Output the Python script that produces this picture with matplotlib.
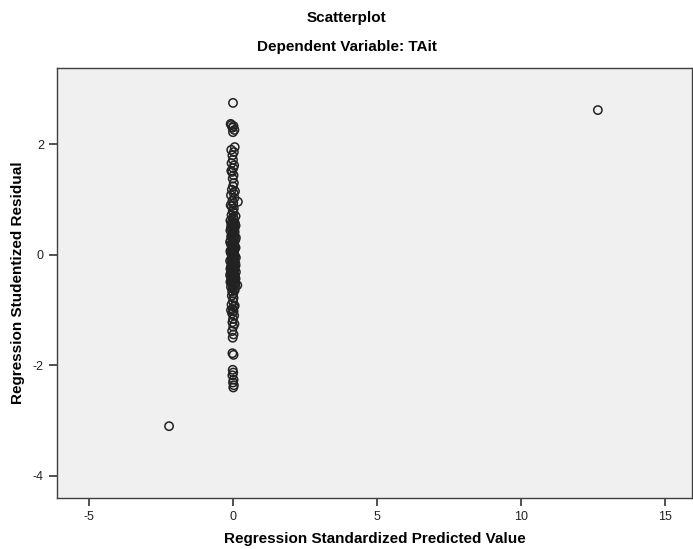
import matplotlib
matplotlib.use("Agg")
import matplotlib.pyplot as plt

# Regression Standardized Predicted Value (x) and Studentized Residual (y)
outlier_x = [12.67, -2.22]
outlier_y = [2.62, -3.10]

cluster_y = [
    2.75,
    2.37, 2.35, 2.33, 2.30, 2.26, 2.22,
    1.90, 1.86, 1.80, 1.72, 1.66, 1.62, 1.57, 1.50, 1.44, 1.38, 1.30, 1.24,
    1.18, 1.12, 1.08, 1.03, 0.98, 0.96, 0.93, 0.88, 0.84, 0.80, 0.76, 0.72,
    0.68, 0.64, 0.61, 0.58, 0.55, 0.52, 0.50, 0.47, 0.45, 0.42, 0.40, 0.37,
    0.35, 0.33, 0.30, 0.28, 0.26, 0.24, 0.22, 0.20, 0.18, 0.16, 0.14, 0.12,
    0.10, 0.08, 0.06, 0.05, 0.03, 0.02, 0.00, -0.01, -0.03, -0.04, -0.06,
    -0.08, -0.10, -0.12, -0.14, -0.16, -0.18, -0.20, -0.22, -0.24, -0.26,
    -0.28, -0.30, -0.32, -0.34, -0.36, -0.38, -0.40, -0.42, -0.44, -0.46,
    -0.48, -0.50, -0.53, -0.55, -0.57, -0.60, -0.63, -0.66, -0.70, -0.74,
    -0.78, -0.84, -0.90, -0.94, -0.98, -1.02, -1.06, -1.10, -1.16, -1.22,
    -1.30, -1.38, -1.44, -1.50, -1.78, -1.81, -2.08, -2.13, -2.18, -2.26,
    -2.31, -2.36, -2.40,
    0.57, 0.49, 0.41, 0.34, 0.27, 0.19, 0.11, 0.04, -0.02, -0.09, -0.15,
    -0.21, -0.27, -0.33, -0.39, -0.45, -0.51, -0.58, -0.64, 0.70, 0.62,
    0.53, 0.44, 0.31, 0.23, 0.13, 0.07, -0.05, -0.11, -0.19, -0.25, -0.31,
    -0.37, -0.43, -0.49, -0.56, 1.95, 1.52, 1.15, 0.90, -0.92, -1.00, -1.25,
]
cluster_x = [
    0.00,
    -0.08, -0.05, 0.02, -0.02, 0.05, 0.00,
    -0.06, 0.03, -0.02, 0.00, -0.05, 0.04, 0.01, -0.03, 0.02, -0.01, 0.03, 0.00,
    -0.04, 0.02, -0.07, 0.05, -0.02, 0.17, 0.01, -0.04, 0.03, -0.01, 0.02, -0.05,
    0.00, 0.04, -0.03, 0.01, -0.06, 0.03, -0.01, 0.05, -0.04, 0.02, 0.00, -0.02,
    0.04, -0.05, 0.01, 0.03, -0.08, 0.00, 0.02, -0.03, 0.05, -0.01, 0.03, -0.04,
    0.01, -0.02, 0.04, -0.06, 0.00, 0.02, -0.03, 0.05, -0.01, 0.03, -0.05,
    0.01, -0.02, 0.04, 0.00, -0.04, 0.02, -0.01, 0.05, -0.03, 0.01,
    -0.06, 0.03, 0.00, -0.02, 0.04, -0.04, 0.02, -0.01, 0.05, -0.03,
    0.01, -0.05, 0.03, 0.15, 0.00, -0.02, 0.04, -0.03, 0.01, -0.04,
    0.02, 0.00, -0.05, 0.03, -0.01, 0.02, -0.03, 0.04, 0.00, -0.02,
    0.01, -0.03, 0.02, -0.01, -0.02, 0.02, -0.01, 0.01, -0.02, 0.02,
    0.00, 0.03, 0.01,
    0.07, -0.07, 0.06, -0.06, 0.08, -0.07, 0.06, -0.08, 0.07, -0.06, 0.08,
    -0.07, 0.06, -0.08, 0.07, -0.06, 0.08, -0.07, 0.06, 0.09, -0.09,
    0.09, -0.09, 0.10, -0.10, 0.09, -0.09, 0.10, -0.10, 0.09, -0.09, 0.10,
    -0.10, 0.09, -0.09, 0.08, 0.06, -0.06, 0.07, -0.08, 0.06, -0.07, 0.05,
]

x_vals = cluster_x + outlier_x
y_vals = cluster_y + outlier_y

x_ticks = [-5, 0, 5, 10, 15]
y_ticks = [-4, -2, 0, 2]

plt.rcParams['font.family'] = ['Liberation Sans', 'DejaVu Sans']
plt.rcParams['axes.unicode_minus'] = False

fig = plt.figure(figsize=(6.93, 5.49), dpi=100)
ax = fig.add_axes([0.0823, 0.0929, 0.9163, 0.7831])
ax.set_facecolor('#f0f0f0')

ax.scatter(x_vals, y_vals, s=36, facecolors='none', edgecolors='#222222',
           linewidths=1.1, zorder=3)

ax.set_xlim(-6.11, 15.94)
ax.set_ylim(-4.40, 3.38)
ax.set_xticks(x_ticks)
ax.set_yticks(y_ticks)
ax.tick_params(direction='out', length=6, width=1.2, colors='#333333',
               labelsize=9, labelcolor='#222222')
for s in ax.spines.values():
    s.set_color('#404040')
    s.set_linewidth(1.0)

ax.set_xlabel('Regression Standardized Predicted Value', fontsize=11,
              fontweight='bold', labelpad=6)
ax.set_ylabel('Regression Studentized Residual', fontsize=11,
              fontweight='bold', labelpad=6)

fig.text(0.5, 1 - 18 / 549, 'Scatterplot', ha='center', va='center',
         fontsize=11, fontweight='bold')
fig.text(0.5, 1 - 47 / 549, 'Dependent Variable: TAit', ha='center',
         va='center', fontsize=11, fontweight='bold')

fig.savefig('out.png', dpi=100)
